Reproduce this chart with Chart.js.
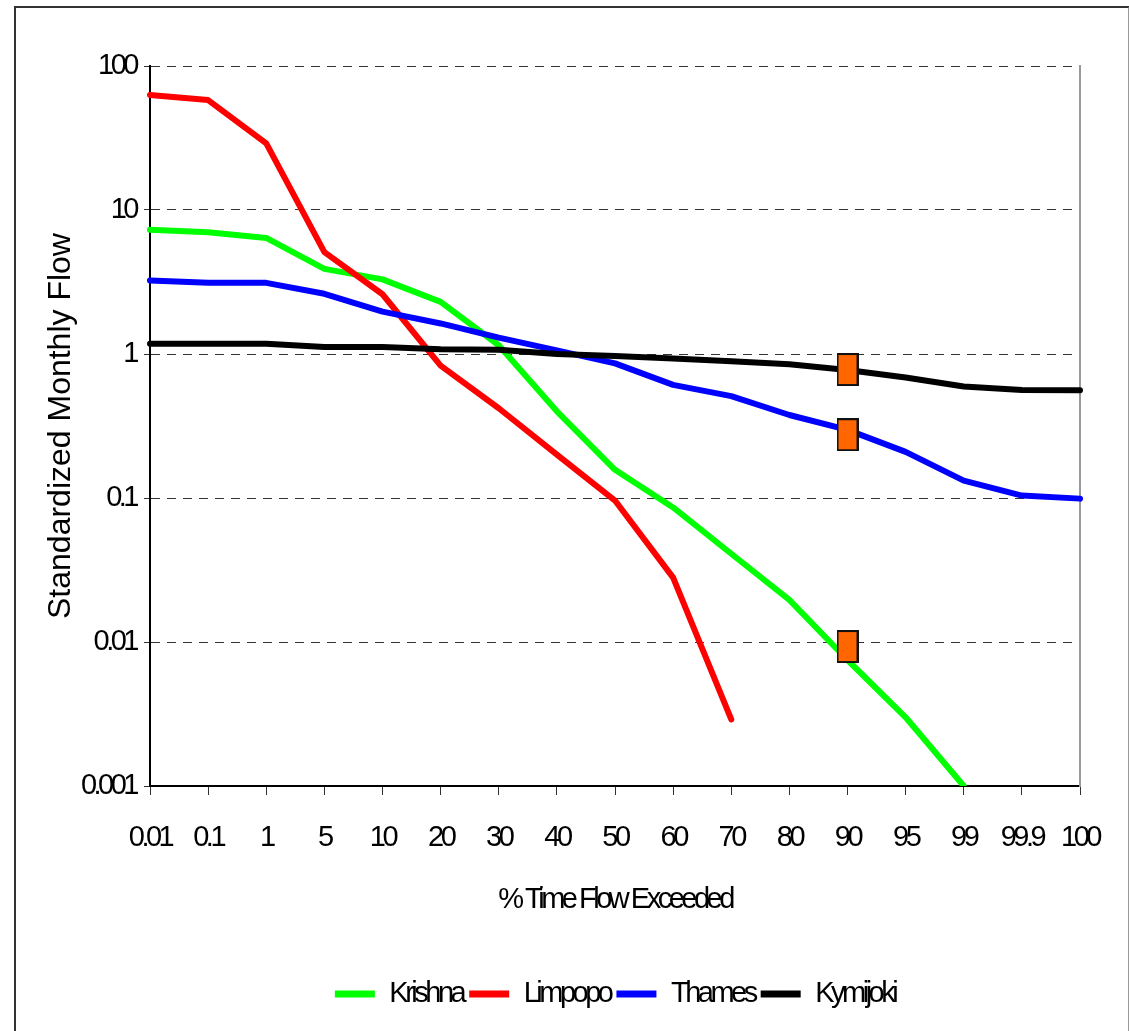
<!DOCTYPE html>
<html>
<head>
<meta charset="utf-8">
<script src="https://cdn.jsdelivr.net/npm/chart.js@4"></script>
<style>
    body { margin: 0; background: #fff; }
    #frame {
        position: absolute; left: 14px; top: 6px; width: 1112px; height: 1100px;
        border-left: 2px solid #333; border-top: 2px solid #333; border-right: 2px solid #999;
    }
    #wrap { position: absolute; left: 0; top: 0; width: 1129px; height: 1031px; }
</style>
</head>
<body>
<div id="frame"></div>
<div id="wrap"><canvas id="flowChart" width="1129" height="1031"></canvas></div>
<script>
// categories (% time flow exceeded) and series values (standardized monthly flow)
const categories = ["0.01", "0.1", "1", "5", "10", "20", "30", "40", "50", "60", "70", "80", "90", "95", "99", "99.9", "100"];
const krishna  = [7.3, 7.0, 6.4, 3.9, 3.3, 2.3, 1.15, 0.40, 0.157, 0.086, 0.041, 0.0196, 0.0075, 0.0030, 0.001, null, null];
const limpopo  = [63, 58, 29, 5.1, 2.6, 0.83, 0.42, 0.20, 0.096, 0.028, 0.0029, null, null, null, null, null, null];
const thames   = [3.24, 3.12, 3.12, 2.62, 1.97, 1.63, 1.30, 1.06, 0.86, 0.61, 0.51, 0.377, 0.297, 0.209, 0.132, 0.104, 0.099];
const kymijoki = [1.18, 1.18, 1.18, 1.12, 1.12, 1.08, 1.07, 1.00, 0.97, 0.93, 0.89, 0.85, 0.775, 0.686, 0.594, 0.563, 0.56];
// highlighted points at 90% exceedance
const markerCategory = "90";
const markerValues = [0.78, 0.275, 0.0093];
const yTicks = [0.001, 0.01, 0.1, 1, 10, 100];

const FONT = "'Liberation Sans', Arial, sans-serif";
const SQUEEZE = "-3.5px";

// orange box used as point style
function makeMarker() {
    const c = document.createElement("canvas");
    c.width = 22; c.height = 33;
    const g = c.getContext("2d");
    g.fillStyle = "#ff6600";
    g.fillRect(0, 0, 22, 33);
    g.strokeStyle = "#111";
    g.lineWidth = 2;
    g.strokeRect(1, 1, 20, 31);
    return c;
}

function series(label, data, color, order) {
    return {
        label: label, data: data,
        borderColor: color, backgroundColor: color,
        borderWidth: 6, borderJoinStyle: "round", borderCapStyle: "round",
        pointRadius: 0, tension: 0, order: order
    };
}

// squeeze text like the original, but keep the y title normal
const narrowText = {
    id: "narrowText",
    beforeUpdate(chart) { chart.ctx.letterSpacing = SQUEEZE; },
    beforeDraw(chart) {
        chart.ctx.letterSpacing = SQUEEZE;
        const y = chart.scales.y;
        if (y && !y._patched) {
            const orig = y.drawTitle;
            y.drawTitle = function () {
                const ctx = this.ctx;
                ctx.letterSpacing = "0px";
                orig.apply(this, arguments);
                ctx.letterSpacing = SQUEEZE;
            };
            y._patched = true;
        }
    }
};

new Chart(document.getElementById("flowChart"), {
    type: "line",
    data: {
        labels: categories,
        datasets: [
            series("Krishna", krishna, "#00ff00", 4),
            series("Limpopo", limpopo, "#ff0000", 3),
            series("Thames", thames, "#0000ff", 2),
            series("Kymijoki", kymijoki, "#000000", 1),
            {
                label: "marker",
                data: markerValues.map(v => ({ x: markerCategory, y: v })),
                showLine: false,
                pointStyle: makeMarker(),
                pointRadius: 12,
                order: 0
            }
        ]
    },
    options: {
        responsive: false,
        animation: false,
        devicePixelRatio: 1,
        layout: { padding: { left: 0, right: 49, top: 66, bottom: 12.5 } },
        plugins: {
            tooltip: { enabled: false },
            legend: {
                position: "bottom",
                fullSize: false,
                labels: {
                    boxWidth: 40,
                    boxHeight: 7,
                    padding: 6,
                    color: "#000",
                    font: { family: FONT, size: 29 },
                    generateLabels(chart) {
                        return chart.data.datasets.slice(0, 4).map((ds, i) => ({
                            text: ds.label,
                            fillStyle: ds.borderColor,
                            strokeStyle: ds.borderColor,
                            lineWidth: 0,
                            datasetIndex: i,
                            hidden: false
                        }));
                    }
                }
            }
        },
        scales: {
            x: {
                type: "category",
                offset: false,
                afterFit(s) { s.height = 187.5; },
                grid: { drawOnChartArea: false, drawTicks: true, tickLength: 9, tickColor: "#333", tickWidth: 1 },
                border: { color: "#000", width: 2 },
                ticks: { color: "#000", font: { family: FONT, size: 29 }, padding: 26, autoSkip: false, maxRotation: 0 },
                title: { display: true, text: "% Time Flow Exceeded", color: "#000", font: { family: FONT, size: 29 }, padding: { top: 0, bottom: 56 } }
            },
            y: {
                type: "logarithmic",
                min: 0.001,
                max: 100,
                afterFit(s) { s.width = 150; },
                afterBuildTicks(s) { s.ticks = yTicks.map(v => ({ value: v, major: false })); },
                grid: { color: "#333", lineWidth: 1, tickLength: 6, tickColor: "#333", tickBorderDash: [] },
                border: { color: "#000", width: 2, dash: [9, 7] },
                ticks: { color: "#000", font: { family: FONT, size: 29 }, padding: 8, callback: v => String(v) },
                title: { display: true, text: "Standardized Monthly Flow", color: "#000", font: { family: FONT, size: 32 }, padding: { top: 42, bottom: 0 } }
            },
            y2: {
                position: "right",
                afterFit(s) { s.width = 0; },
                grid: { drawOnChartArea: false, drawTicks: false },
                border: { color: "#999", width: 2 },
                ticks: { display: false }
            }
        }
    },
    plugins: [narrowText]
});
</script>
</body>
</html>
